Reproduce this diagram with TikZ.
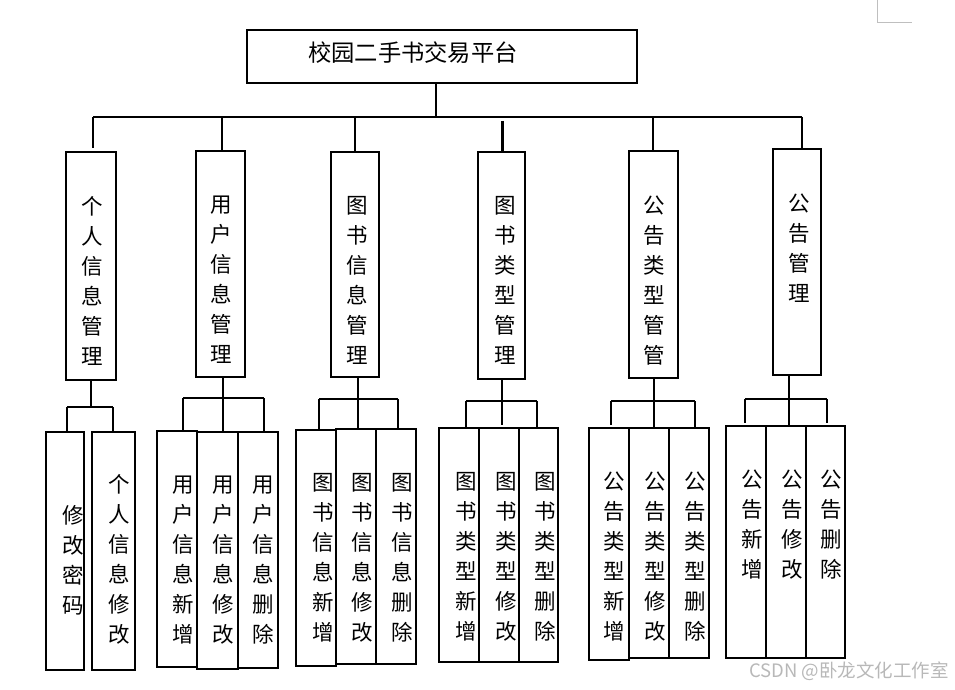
\documentclass[tikz,border=0pt]{standalone}
\usepackage{fontspec}
\setmainfont{Noto Sans CJK SC}
\newfontfamily\cjk{Noto Sans CJK SC}
\begin{document}
\begin{tikzpicture}[x=1pt,y=-1pt,
  line width=2.6pt,
  boxsty/.style={draw,rectangle,inner sep=0pt,outer sep=0pt},
  vt/.style={align=center,inner sep=0pt,font=\cjk\fontsize{21.5}{30}\selectfont},
  roottxt/.style={inner sep=0pt,font=\cjk\fontsize{23.3}{28}\selectfont},
  wm/.style={inner sep=0pt,text=black!28,font=\cjk\fontsize{18.5}{20}\selectfont},
  faint/.style={line width=1pt,draw=black!25}]
\useasboundingbox (0,0) rectangle (955,690);
\newcommand\mybox[5]{\node[boxsty,minimum width={(#4)-(#2)},minimum height={(#5)-(#3)}] (#1) at ({((#2)+(#4))/2},{((#3)+(#5))/2}) {};}
% root
\mybox{root}{247}{30}{637}{83}
\node[roottxt] (roottext) at (413,52.5) {校园二手书交易平台};
% level 2
\mybox{b1}{66}{152}{116}{380}
\mybox{b2}{196}{151}{245}{377}
\mybox{b3}{331}{152}{379}{377}
\mybox{b4}{478}{152}{525}{379}
\mybox{b5}{629}{151}{678}{378}
\mybox{b6}{773}{149}{821}{375}
\node[vt] (t1) at (92,281) {个\\人\\信\\息\\管\\理};
\node[vt] (t2) at (221,280) {用\\户\\信\\息\\管\\理};
\node[vt] (t3) at (357,280) {图\\书\\信\\息\\管\\理};
\node[vt] (t4) at (505,280) {图\\书\\类\\型\\管\\理};
\node[vt] (t5) at (654,281) {公\\告\\类\\型\\管\\管};
\node[vt] (t6) at (799,248.5) {公\\告\\管\\理};
% bus
\coordinate (busL) at (93,117);
\coordinate (busR) at (802,117);
\coordinate (rootdrop) at (436,117);
\coordinate (d2) at (222,117);
\coordinate (d3) at (355,117);
\coordinate (d4) at (502.5,121);
\coordinate (d5) at (653,117);
\draw (root.south -| rootdrop) -- (rootdrop);
\draw (busL) -- (busR);
\draw (busL) -- (93,148);
\draw (d2) -- (b2.north -| d2);
\draw (d3) -- (b3.north -| d3);
\draw (d4) -- (b4.north -| d4);
\draw (d5) -- (b5.north -| d5);
\draw (busR) -- (802,148);
% group 1
\mybox{c11}{46}{432}{84}{670}
\mybox{c12}{92}{432}{135}{670}
\node[vt] (u11) at (73,560) {修\\改\\密\\码};
\node[vt] (u12) at (119,559) {个\\人\\信\\息\\修\\改};
\coordinate (h1) at (91,407);
\coordinate (l1) at (67,407);
\coordinate (r1) at (113,407);
\draw (b1.south -| h1) -- (h1);
\draw (l1) -- (r1);
\draw (l1) -- (c11.north -| l1);
\draw (r1) -- (c12.north -| r1);
% group 2
\mybox{c21}{157}{431}{197}{667}
\mybox{c22}{197}{432}{238}{669}
\mybox{c23}{238}{432}{278}{668}
\node[vt] (u21) at (183,560) {用\\户\\信\\息\\新\\增};
\node[vt] (u22) at (223,560) {用\\户\\信\\息\\修\\改};
\node[vt] (u23) at (263,560) {用\\户\\信\\息\\删\\除};
\coordinate (h2) at (223,398);
\coordinate (l2) at (183,398);
\coordinate (r2) at (264,398);
\draw (b2.south -| h2) -- (c22.north -| h2);
\draw (l2) -- (r2);
\draw (l2) -- (c21.north -| l2);
\draw (r2) -- (c23.north -| r2);
% group 3
\mybox{c31}{296}{430}{336}{666}
\mybox{c32}{336}{429}{376}{664}
\mybox{c33}{376}{429}{416}{664}
\node[vt] (u31) at (323,558) {图\\书\\信\\息\\新\\增};
\node[vt] (u32) at (362,558) {图\\书\\信\\息\\修\\改};
\node[vt] (u33) at (402,558) {图\\书\\信\\息\\删\\除};
\coordinate (h3) at (358,399);
\coordinate (l3) at (319,399);
\coordinate (r3) at (398,399);
\draw (b3.south -| h3) -- (c32.north -| h3);
\draw (l3) -- (r3);
\draw (l3) -- (c31.north -| l3);
\draw (r3) -- (c33.north -| r3);
% group 4
\mybox{c41}{439}{428}{479}{662}
\mybox{c42}{479}{428}{519}{662}
\mybox{c43}{519}{428}{558}{662}
\node[vt] (u41) at (466,557) {图\\书\\类\\型\\新\\增};
\node[vt] (u42) at (506,557) {图\\书\\类\\型\\修\\改};
\node[vt] (u43) at (545,557) {图\\书\\类\\型\\删\\除};
\coordinate (h4) at (502,425);
\coordinate (l4) at (466,401);
\coordinate (r4) at (537,401);
\draw (b4.south -| h4) -- (h4);
\draw (l4) -- (r4);
\draw (l4) -- (c41.north -| l4);
\draw (r4) -- (c43.north -| r4);
% group 5
\mybox{c51}{589}{428}{629}{660}
\mybox{c52}{629}{428}{669}{658}
\mybox{c53}{669}{428}{709}{658}
\node[vt] (u51) at (614,557) {公\\告\\类\\型\\新\\增};
\node[vt] (u52) at (655,557) {公\\告\\类\\型\\修\\改};
\node[vt] (u53) at (695,557) {公\\告\\类\\型\\删\\除};
\coordinate (h5) at (654,401);
\coordinate (l5) at (611,401);
\coordinate (r5) at (695,401);
\coordinate (e5) at (611,425);
\draw (b5.south -| h5) -- (c52.north -| h5);
\draw (l5) -- (r5);
\draw (l5) -- (e5);
\draw (r5) -- (c53.north -| r5);
% group 6
\mybox{c61}{726}{426}{766}{658}
\mybox{c62}{766}{426}{806}{658}
\mybox{c63}{806}{426}{845}{658}
\node[vt] (u61) at (752,525) {公\\告\\新\\增};
\node[vt] (u62) at (792,525) {公\\告\\修\\改};
\node[vt] (u63) at (831,525) {公\\告\\删\\除};
\coordinate (h6) at (789,399);
\coordinate (l6) at (745,399);
\coordinate (r6) at (827,399);
\coordinate (el6) at (745,423);
\coordinate (er6) at (827,423);
\draw (b6.south -| h6) -- (c62.north -| h6);
\draw (l6) -- (r6);
\draw (l6) -- (el6);
\draw (r6) -- (er6);
% extras
\node[wm] (wmark) at (849,671) {CSDN @卧龙文化工作室};
\coordinate (cA) at (877,0);
\coordinate (cB) at (877,23);
\coordinate (cC) at (912,23);
\draw[faint] (cA) -- (cB) -- (cC);
\end{tikzpicture}
\end{document}
